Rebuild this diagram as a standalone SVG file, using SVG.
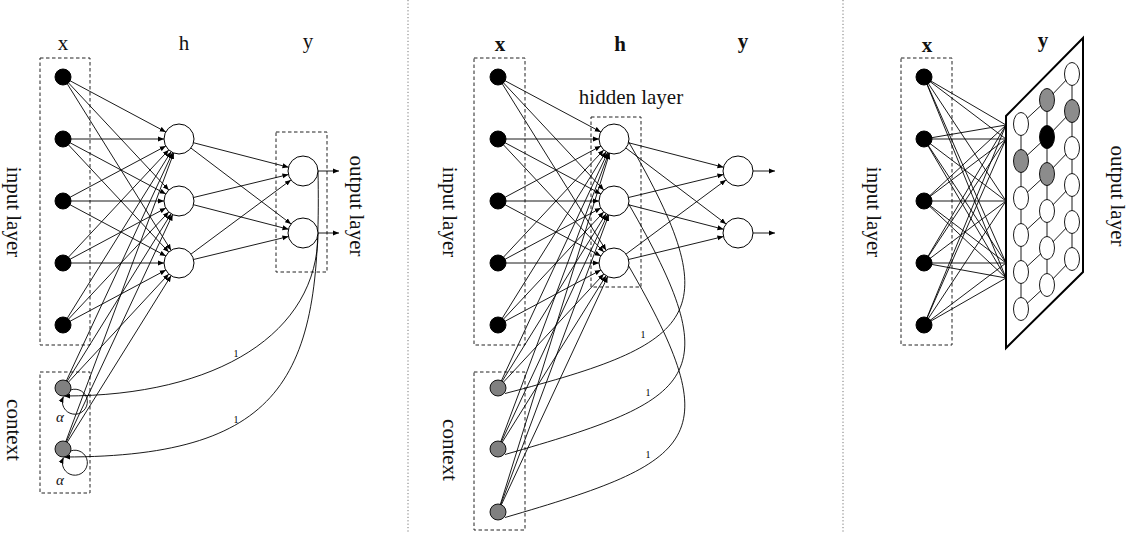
<svg xmlns="http://www.w3.org/2000/svg" width="1130" height="535" viewBox="0 0 1130 535">
<style>
.c{stroke:#000;stroke-width:0.9;fill:none}
.box{stroke:#222;stroke-width:1;fill:none;stroke-dasharray:3.5 2.5}
.div{stroke:#777;stroke-width:1;stroke-dasharray:1.2 2.2}
.inp{fill:#000;stroke:#000;stroke-width:1}
.ctx{fill:#808080;stroke:#000;stroke-width:0.9}
.neu{fill:#fff;stroke:#000;stroke-width:1}
.g{fill:#fff;stroke:#000;stroke-width:0.9}
.gg{fill:#8c8c8c;stroke:#000;stroke-width:0.9}
.gb{fill:#000;stroke:#000;stroke-width:0.9}
text{font-family:"Liberation Serif","DejaVu Serif",serif;fill:#111}
.lab{font-size:21px}
.bold{font-size:21px;font-weight:bold}
.one{font-size:10px;fill:#000}
.al{font-size:15px;font-style:italic}
</style>
<defs>
<marker id="a15" viewBox="0 0 21 6" refX="21" refY="3" markerWidth="21" markerHeight="6" markerUnits="userSpaceOnUse" orient="auto"><path d="M0,0.5 L6,3 L0,5.5 Z" fill="#000"/></marker>
<marker id="tip" viewBox="0 0 6 6" refX="6" refY="3" markerWidth="6" markerHeight="6" markerUnits="userSpaceOnUse" orient="auto"><path d="M0,0.5 L6,3 L0,5.5 Z" fill="#000"/></marker>
</defs>
<rect width="1130" height="535" fill="#fff"/>

<!-- dividers -->
<line class="div" x1="408" y1="0" x2="408" y2="532"/>
<line class="div" x1="843" y1="0" x2="843" y2="532"/>

<!-- dashed boxes -->
<rect class="box" x="40" y="58" width="50" height="287"/>
<rect class="box" x="40" y="372" width="50" height="121"/>
<rect class="box" x="276" y="132" width="51" height="140"/>
<rect class="box" x="474" y="58" width="51" height="287"/>
<rect class="box" x="474" y="372" width="51" height="158"/>
<rect class="box" x="591" y="117" width="50" height="170"/>
<rect class="box" x="901" y="58" width="51" height="287"/>

<!-- labels -->
<text class="lab" x="63" y="50" text-anchor="middle">x</text>
<text class="lab" x="184" y="50" text-anchor="middle">h</text>
<text class="lab" x="308" y="48" text-anchor="middle">y</text>
<text class="lab" transform="translate(7,212) rotate(90)" text-anchor="middle">input layer</text>
<text class="lab" transform="translate(7,430) rotate(90)" text-anchor="middle">context</text>
<text class="lab" transform="translate(350,206) rotate(90)" text-anchor="middle">output layer</text>
<text class="al" x="60" y="422" text-anchor="middle">α</text>
<text class="al" x="60" y="485" text-anchor="middle">α</text>
<text class="one" x="236" y="357" text-anchor="middle">1</text>
<text class="one" x="236" y="423" text-anchor="middle">1</text>

<text class="bold" x="500" y="51" text-anchor="middle">x</text>
<text class="bold" x="620" y="51" text-anchor="middle">h</text>
<text class="bold" x="743" y="48" text-anchor="middle">y</text>
<text class="lab" x="631" y="104" text-anchor="middle">hidden layer</text>
<text class="lab" transform="translate(443,212) rotate(90)" text-anchor="middle">input layer</text>
<text class="lab" transform="translate(443,450) rotate(90)" text-anchor="middle">context</text>
<text class="one" x="643" y="338" text-anchor="middle">1</text>
<text class="one" x="648" y="396" text-anchor="middle">1</text>
<text class="one" x="648" y="458" text-anchor="middle">1</text>

<text class="bold" x="927" y="52" text-anchor="middle">x</text>
<text class="bold" x="1043" y="47" text-anchor="middle">y</text>
<text class="lab" transform="translate(867,212) rotate(90)" text-anchor="middle">input layer</text>
<text class="lab" transform="translate(1111,196) rotate(90)" text-anchor="middle">output layer</text>

<g id="connectors">
<!-- LEFT: input -> hidden -->
<g class="c" marker-end="url(#a15)">
<line x1="63" y1="77" x2="179" y2="139"/><line x1="63" y1="77" x2="179" y2="201"/><line x1="63" y1="77" x2="179" y2="263"/>
<line x1="63" y1="139" x2="179" y2="139"/><line x1="63" y1="139" x2="179" y2="201"/><line x1="63" y1="139" x2="179" y2="263"/>
<line x1="63" y1="201" x2="179" y2="139"/><line x1="63" y1="201" x2="179" y2="201"/><line x1="63" y1="201" x2="179" y2="263"/>
<line x1="63" y1="263" x2="179" y2="139"/><line x1="63" y1="263" x2="179" y2="201"/><line x1="63" y1="263" x2="179" y2="263"/>
<line x1="63" y1="325" x2="179" y2="139"/><line x1="63" y1="325" x2="179" y2="201"/><line x1="63" y1="325" x2="179" y2="263"/>
<line x1="63" y1="388" x2="179" y2="139"/><line x1="63" y1="388" x2="179" y2="201"/><line x1="63" y1="388" x2="179" y2="263"/>
<line x1="63" y1="449" x2="179" y2="139"/><line x1="63" y1="449" x2="179" y2="201"/><line x1="63" y1="449" x2="179" y2="263"/>
<line x1="179" y1="139" x2="303" y2="171"/><line x1="179" y1="139" x2="303" y2="233"/>
<line x1="179" y1="201" x2="303" y2="171"/><line x1="179" y1="201" x2="303" y2="233"/>
<line x1="179" y1="263" x2="303" y2="171"/><line x1="179" y1="263" x2="303" y2="233"/>
</g>
<g class="c" marker-end="url(#tip)">
<line x1="318" y1="171" x2="339" y2="171"/><line x1="318" y1="233" x2="339" y2="233"/>
<path d="M318,233 C318,333 218,396 64,396"/>
<path d="M318,171 C322,371 290,457 64,457"/>
<path d="M70.5,390 A12.5,12.5 0 1 1 63.5,396.5"/>
<path d="M70.5,451 A12.5,12.5 0 1 1 63.5,457.5"/>
</g>

<!-- MIDDLE -->
<g class="c" marker-end="url(#a15)">
<line x1="498" y1="77" x2="614" y2="139"/><line x1="498" y1="77" x2="614" y2="201"/><line x1="498" y1="77" x2="614" y2="263"/>
<line x1="498" y1="139" x2="614" y2="139"/><line x1="498" y1="139" x2="614" y2="201"/><line x1="498" y1="139" x2="614" y2="263"/>
<line x1="498" y1="201" x2="614" y2="139"/><line x1="498" y1="201" x2="614" y2="201"/><line x1="498" y1="201" x2="614" y2="263"/>
<line x1="498" y1="263" x2="614" y2="139"/><line x1="498" y1="263" x2="614" y2="201"/><line x1="498" y1="263" x2="614" y2="263"/>
<line x1="498" y1="325" x2="614" y2="139"/><line x1="498" y1="325" x2="614" y2="201"/><line x1="498" y1="325" x2="614" y2="263"/>
<line x1="498" y1="388" x2="614" y2="139"/><line x1="498" y1="388" x2="614" y2="201"/><line x1="498" y1="388" x2="614" y2="263"/>
<line x1="498" y1="449" x2="614" y2="139"/><line x1="498" y1="449" x2="614" y2="201"/><line x1="498" y1="449" x2="614" y2="263"/>
<line x1="498" y1="512" x2="614" y2="139"/><line x1="498" y1="512" x2="614" y2="201"/><line x1="498" y1="512" x2="614" y2="263"/>
<line x1="614" y1="139" x2="738" y2="171"/><line x1="614" y1="139" x2="738" y2="233"/>
<line x1="614" y1="201" x2="738" y2="171"/><line x1="614" y1="201" x2="738" y2="233"/>
<line x1="614" y1="263" x2="738" y2="171"/><line x1="614" y1="263" x2="738" y2="233"/>
</g>
<g class="c" marker-end="url(#tip)">
<line x1="753" y1="171" x2="775" y2="171"/><line x1="753" y1="233" x2="775" y2="233"/>
</g>
<g class="c">
<path d="M628.7,142 C729,316 699,343 505,393.5"/>
<path d="M628.7,204 C729,378 699,399 505,454.5"/>
<path d="M628.7,266 C729,440 699,461 505,517.5"/>
</g>

<!-- RIGHT: input -> map -->
<g class="c">
<line x1="924" y1="77" x2="1006" y2="125"/><line x1="924" y1="77" x2="1006" y2="139"/><line x1="924" y1="77" x2="1006" y2="201"/><line x1="924" y1="77" x2="1006" y2="263"/><line x1="924" y1="77" x2="1006" y2="278"/>
<line x1="924" y1="139" x2="1006" y2="125"/><line x1="924" y1="139" x2="1006" y2="139"/><line x1="924" y1="139" x2="1006" y2="201"/><line x1="924" y1="139" x2="1006" y2="263"/><line x1="924" y1="139" x2="1006" y2="278"/>
<line x1="924" y1="201" x2="1006" y2="125"/><line x1="924" y1="201" x2="1006" y2="139"/><line x1="924" y1="201" x2="1006" y2="201"/><line x1="924" y1="201" x2="1006" y2="263"/><line x1="924" y1="201" x2="1006" y2="278"/>
<line x1="924" y1="263" x2="1006" y2="125"/><line x1="924" y1="263" x2="1006" y2="139"/><line x1="924" y1="263" x2="1006" y2="201"/><line x1="924" y1="263" x2="1006" y2="263"/><line x1="924" y1="263" x2="1006" y2="278"/>
<line x1="924" y1="325" x2="1006" y2="125"/><line x1="924" y1="325" x2="1006" y2="139"/><line x1="924" y1="325" x2="1006" y2="201"/><line x1="924" y1="325" x2="1006" y2="263"/><line x1="924" y1="325" x2="1006" y2="278"/>
</g>
</g>

<!-- output map plane -->
<g id="R-map">
<polygon points="1006,116 1083,38 1083,272 1006,348" fill="#fff" stroke="#000" stroke-width="2"/>
<g class="c">
<line x1="1021" y1="124" x2="1021" y2="309"/>
<line x1="1047" y1="100" x2="1047" y2="285"/>
<line x1="1072" y1="74" x2="1072" y2="259"/>
<polyline points="1021,124 1047,100 1072,74"/>
<polyline points="1021,161 1047,137 1072,111"/>
<polyline points="1021,198 1047,174 1072,148"/>
<polyline points="1021,235 1047,211 1072,185"/>
<polyline points="1021,272 1047,248 1072,222"/>
<polyline points="1021,309 1047,285 1072,259"/>
</g>
<g id="R-y-c1">
<ellipse class="g" cx="1021" cy="124" rx="7.5" ry="11.5"/>
<ellipse class="gg" cx="1021" cy="161" rx="7.5" ry="11.5"/>
<ellipse class="g" cx="1021" cy="198" rx="7.5" ry="11.5"/>
<ellipse class="g" cx="1021" cy="235" rx="7.5" ry="11.5"/>
<ellipse class="g" cx="1021" cy="272" rx="7.5" ry="11.5"/>
<ellipse class="g" cx="1021" cy="309" rx="7.5" ry="11.5"/>
</g>
<g id="R-y-c2">
<ellipse class="gg" cx="1047" cy="100" rx="7.5" ry="11.5"/>
<ellipse class="gb" cx="1047" cy="137" rx="7.5" ry="11.5"/>
<ellipse class="gg" cx="1047" cy="174" rx="7.5" ry="11.5"/>
<ellipse class="g" cx="1047" cy="211" rx="7.5" ry="11.5"/>
<ellipse class="g" cx="1047" cy="248" rx="7.5" ry="11.5"/>
<ellipse class="g" cx="1047" cy="285" rx="7.5" ry="11.5"/>
</g>
<g id="R-y-c3">
<ellipse class="g" cx="1072" cy="74" rx="7.5" ry="11.5"/>
<ellipse class="gg" cx="1072" cy="111" rx="7.5" ry="11.5"/>
<ellipse class="g" cx="1072" cy="148" rx="7.5" ry="11.5"/>
<ellipse class="g" cx="1072" cy="185" rx="7.5" ry="11.5"/>
<ellipse class="g" cx="1072" cy="222" rx="7.5" ry="11.5"/>
<ellipse class="g" cx="1072" cy="259" rx="7.5" ry="11.5"/>
</g>
</g>

<!-- LEFT nodes -->
<g id="L-x1"><circle class="inp" cx="63" cy="77" r="8"/></g>
<g id="L-x2"><circle class="inp" cx="63" cy="139" r="8"/></g>
<g id="L-x3"><circle class="inp" cx="63" cy="201" r="8"/></g>
<g id="L-x4"><circle class="inp" cx="63" cy="263" r="8"/></g>
<g id="L-x5"><circle class="inp" cx="63" cy="325" r="8"/></g>
<g id="L-c1"><circle class="ctx" cx="63" cy="388" r="8"/></g>
<g id="L-c2"><circle class="ctx" cx="63" cy="449" r="8"/></g>
<g id="L-h1"><circle class="neu" cx="179" cy="139" r="15"/></g>
<g id="L-h2"><circle class="neu" cx="179" cy="201" r="15"/></g>
<g id="L-h3"><circle class="neu" cx="179" cy="263" r="15"/></g>
<g id="L-y1"><circle class="neu" cx="303" cy="171" r="15"/></g>
<g id="L-y2"><circle class="neu" cx="303" cy="233" r="15"/></g>

<!-- MIDDLE nodes -->
<g id="M-x1"><circle class="inp" cx="498" cy="77" r="8"/></g>
<g id="M-x2"><circle class="inp" cx="498" cy="139" r="8"/></g>
<g id="M-x3"><circle class="inp" cx="498" cy="201" r="8"/></g>
<g id="M-x4"><circle class="inp" cx="498" cy="263" r="8"/></g>
<g id="M-x5"><circle class="inp" cx="498" cy="325" r="8"/></g>
<g id="M-c1"><circle class="ctx" cx="498" cy="388" r="8"/></g>
<g id="M-c2"><circle class="ctx" cx="498" cy="449" r="8"/></g>
<g id="M-c3"><circle class="ctx" cx="498" cy="512" r="8"/></g>
<g id="M-h1"><circle class="neu" cx="614" cy="139" r="15"/></g>
<g id="M-h2"><circle class="neu" cx="614" cy="201" r="15"/></g>
<g id="M-h3"><circle class="neu" cx="614" cy="263" r="15"/></g>
<g id="M-y1"><circle class="neu" cx="738" cy="171" r="15"/></g>
<g id="M-y2"><circle class="neu" cx="738" cy="233" r="15"/></g>

<!-- RIGHT nodes -->
<g id="R-x1"><circle class="inp" cx="924" cy="77" r="8"/></g>
<g id="R-x2"><circle class="inp" cx="924" cy="139" r="8"/></g>
<g id="R-x3"><circle class="inp" cx="924" cy="201" r="8"/></g>
<g id="R-x4"><circle class="inp" cx="924" cy="263" r="8"/></g>
<g id="R-x5"><circle class="inp" cx="924" cy="325" r="8"/></g>
</svg>
